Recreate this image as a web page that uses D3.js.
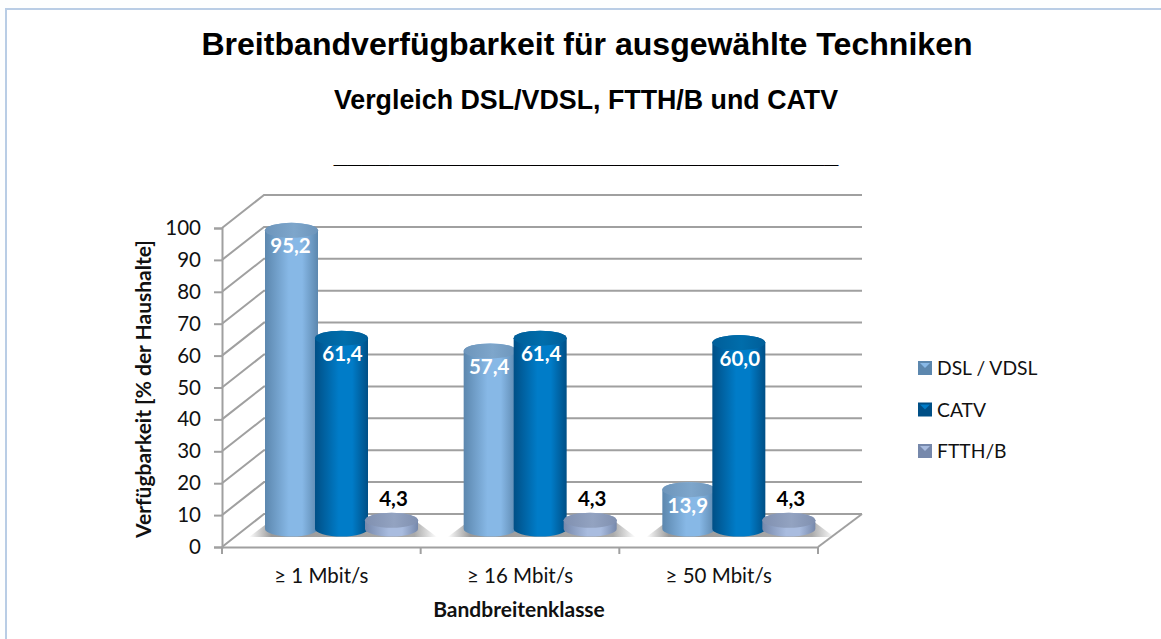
<!DOCTYPE html>
<html lang="de">
<head>
<meta charset="utf-8">
<title>Breitbandverfügbarkeit</title>
<script src="https://cdn.jsdelivr.net/npm/d3@7"></script>
<style>
  html, body { margin: 0; padding: 0; background: #fdfefe; }
  svg { display: block; }
  .titel { font-family: "Liberation Sans", Arial, sans-serif; font-weight: bold; fill: #000; text-anchor: middle; }
  .schrift { font-family: Lato, "Open Sans", sans-serif; fill: #111; }
</style>
</head>
<body>
<svg id="chart" width="1161" height="639"></svg>
<script>
// ================= DATOS =================
const klassen = ["≥ 1 Mbit/s", "≥ 16 Mbit/s", "≥ 50 Mbit/s"];
const serien = ["DSL / VDSL", "CATV", "FTTH/B"];
const dslWerte = [95.2, 57.4, 13.9];
const catvWerte = [61.4, 61.4, 60.0];
const ftthWerte = [4.3, 4.3, 4.3];
const yTicks = [0, 10, 20, 30, 40, 50, 60, 70, 80, 90, 100];

const werte = [dslWerte, catvWerte, ftthWerte];
const farben = [
  { rand: "#5c87ae", mitte: "#87b8e6", deckel: "#6d95bb", deckelHell: "#7ea6cb" },
  { rand: "#004f86", mitte: "#007cc8", deckel: "#005e99", deckelHell: "#006dab" },
  { rand: "#7688ab", mitte: "#a9bcdf", deckel: "#8090b0", deckelHell: "#93a3c1" }
];
const labelVersatz = [-1, 1, 2];   // Beschriftung je Serie leicht versetzt

// ================= ESCALAS =================
const svg = d3.select("#chart");
const tiefeX = 42, tiefeY = 33;      // Versatz der 3D-Rückwand
const links = 222, rechts = 818;

const y = d3.scaleLinear().domain([0, 100]).range([547, 228]);
const x0 = d3.scaleBand().domain(klassen).range([links, rechts]);
const x1 = d3.scaleBand().domain(serien).range([43, 193]);
// Säulen stehen in der Bodenmitte, daher eigene Höhenskala (gleiche Steigung wie y)
const yZyl = d3.scaleLinear().domain([0, 100]).range([534, 215]);
const bodenY = yZyl(0) - 5;

const zylBreite = 53, ry = 7.5;

// ================= FONDO =================
svg.append("rect").attr("x", 6).attr("y", 9).attr("width", 1200).attr("height", 700)
  .attr("fill", "#fff").attr("stroke", "#b9cde5").attr("stroke-width", 2);

svg.append("text").attr("class", "titel").attr("x", 587).attr("y", 55)
  .attr("font-size", 32.1).text("Breitbandverfügbarkeit für ausgewählte Techniken");
svg.append("text").attr("class", "titel").attr("x", 586).attr("y", 109)
  .attr("font-size", 26.8).text("Vergleich DSL/VDSL, FTTH/B und CATV");
svg.append("text").attr("class", "titel").attr("x", 586).attr("y", 163)
  .attr("font-size", 25.2).text("_".repeat(36));

// ================= VERLÄUFE =================
const defs = svg.append("defs");
farben.forEach((f, i) => {
  const g = defs.append("linearGradient").attr("id", "zyl" + i);
  g.append("stop").attr("offset", "0%").attr("stop-color", f.rand);
  g.append("stop").attr("offset", "45%").attr("stop-color", f.mitte);
  g.append("stop").attr("offset", "70%").attr("stop-color", f.mitte);
  g.append("stop").attr("offset", "100%").attr("stop-color", f.rand);
  const d = defs.append("linearGradient").attr("id", "deckel" + i);
  d.append("stop").attr("offset", "0%").attr("stop-color", f.deckel);
  d.append("stop").attr("offset", "55%").attr("stop-color", f.deckelHell);
  d.append("stop").attr("offset", "100%").attr("stop-color", f.deckel);
});
const schatten = defs.append("linearGradient").attr("id", "schatten");
schatten.append("stop").attr("offset", "0%").attr("stop-color", "#999").attr("stop-opacity", 0);
schatten.append("stop").attr("offset", "12%").attr("stop-color", "#999");
schatten.append("stop").attr("offset", "88%").attr("stop-color", "#aaa");
schatten.append("stop").attr("offset", "100%").attr("stop-color", "#aaa").attr("stop-opacity", 0);

// ================= WÄNDE =================
const grau = "#a0a0a0";
const gitter = svg.append("g").attr("fill", "none").attr("stroke", grau).attr("stroke-width", 2);
yTicks.forEach(t => {
  gitter.append("path").attr("d", d3.line()([
    [links, y(t)],
    [links + tiefeX, y(t) - tiefeY],
    [rechts + tiefeX + 2, y(t) - tiefeY]
  ]));
});
gitter.append("line")
  .attr("x1", rechts).attr("y1", y(0))
  .attr("x2", rechts + tiefeX + 2).attr("y2", y(0) - tiefeY);

// ================= EJES =================
const achseY = svg.append("g").attr("transform", `translate(${links},0)`)
  .call(d3.axisLeft(y).tickValues(yTicks).tickSize(8).tickPadding(13));
const achseX = svg.append("g").attr("transform", `translate(0,${y(0)})`)
  .call(d3.axisBottom(x0).tickSize(0).tickPadding(21));

[achseY, achseX].forEach(a => {
  a.select(".domain").attr("stroke", grau).attr("stroke-width", 2);
  a.selectAll(".tick line").attr("stroke", grau).attr("stroke-width", 2);
  a.selectAll("text").attr("class", "schrift").attr("fill", "#111").attr("font-size", 20.5);
});

// Teilstriche zwischen den Klassen
svg.append("g").selectAll("line")
  .data(klassen.map(k => x0(k)).concat(rechts))
  .join("line")
  .attr("x1", d => d).attr("x2", d => d)
  .attr("y1", y(0)).attr("y2", y(0) + 7)
  .attr("stroke", grau).attr("stroke-width", 2);

svg.append("text").attr("class", "schrift")
  .attr("transform", "translate(151,389) rotate(-90)")
  .attr("text-anchor", "middle").attr("font-weight", "bold").attr("font-size", 21)
  .text("Verfügbarkeit [% der Haushalte]");
svg.append("text").attr("class", "schrift")
  .attr("x", 519).attr("y", 617)
  .attr("text-anchor", "middle").attr("font-weight", "bold").attr("font-size", 21)
  .text("Bandbreitenklasse");

// ================= SÄULEN =================
klassen.forEach(k => {
  const sx = x0(k) + x1(serien[0]);
  svg.append("path")
    .attr("d", d3.line()([[sx - 16, bodenY + 8], [sx + 172, bodenY + 8], [sx + 152, bodenY - 7], [sx + 4, bodenY - 7]]))
    .attr("fill", "url(#schatten)");
});

function zylinderPfad(xl, oben, unten) {
  const w = zylBreite, rx = w / 2;
  return `M${xl},${oben} L${xl},${unten} A${rx},${ry} 0 0 0 ${xl + w},${unten} L${xl + w},${oben} A${rx},${ry} 0 0 0 ${xl},${oben} Z`;
}

serien.forEach((s, i) => {
  const gruppe = svg.append("g");
  const zeilen = klassen.map((k, j) => ({ k, wert: werte[i][j] }));

  gruppe.selectAll("path.koerper").data(zeilen).join("path")
    .attr("class", "koerper")
    .attr("d", d => zylinderPfad(x0(d.k) + x1(s), yZyl(d.wert), bodenY))
    .attr("fill", `url(#zyl${i})`);

  gruppe.selectAll("ellipse").data(zeilen).join("ellipse")
    .attr("cx", d => x0(d.k) + x1(s) + zylBreite / 2)
    .attr("cy", d => yZyl(d.wert))
    .attr("rx", zylBreite / 2).attr("ry", ry)
    .attr("fill", `url(#deckel${i})`);

  gruppe.selectAll("text").data(zeilen).join("text")
    .attr("class", "schrift")
    .attr("x", d => x0(d.k) + x1(s) + zylBreite / 2 + labelVersatz[i])
    .attr("y", d => d.wert < 10 ? yZyl(d.wert) - 14.5 : yZyl(d.wert) + 23)
    .attr("text-anchor", "middle").attr("font-weight", "bold").attr("font-size", 20.5)
    .style("fill", d => d.wert < 10 ? "#000" : "#fff")
    .text(d => d3.format(".1f")(d.wert).replace(".", ","));
});

// ================= LEYENDA =================
const legendeY = d3.scalePoint().domain(serien).range([368, 451]);
const legende = svg.append("g").selectAll("g").data(serien).join("g")
  .attr("transform", d => `translate(918,${legendeY(d)})`);
legende.append("rect")
  .attr("x", 0).attr("y", -7).attr("width", 14).attr("height", 14)
  .attr("fill", (d, i) => farben[i].rand);
legende.append("path")
  .attr("d", d3.line()([[2, -5], [12, -5], [7, 0]]))
  .attr("fill", (d, i) => farben[i].mitte);
legende.append("text").attr("class", "schrift")
  .attr("x", 19).attr("y", 7)
  .attr("font-size", 19.3)
  .text(d => d);
</script>
</body>
</html>
